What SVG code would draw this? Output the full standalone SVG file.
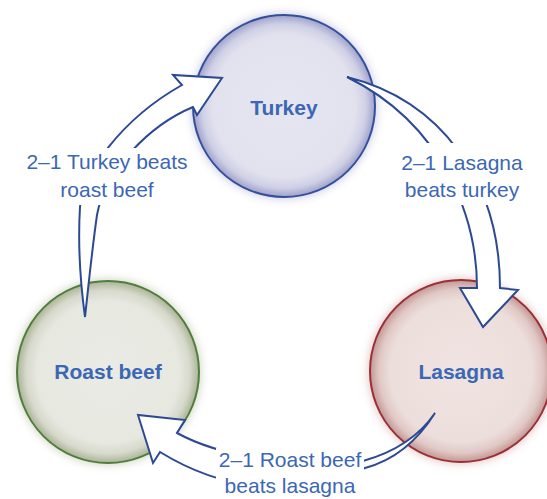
<svg xmlns="http://www.w3.org/2000/svg" width="547" height="499" viewBox="0 0 547 499">
<defs>
<radialGradient id="gT" cx="50%" cy="50%" r="50%">
<stop offset="0%" stop-color="#e6e6f1"/><stop offset="78%" stop-color="#e2e2ef"/><stop offset="90%" stop-color="#cfd0e5"/><stop offset="100%" stop-color="#9fa2cc"/>
</radialGradient>
<radialGradient id="gR" cx="50%" cy="50%" r="50%">
<stop offset="0%" stop-color="#eaebe5"/><stop offset="78%" stop-color="#e7e8e0"/><stop offset="90%" stop-color="#d6d9cb"/><stop offset="100%" stop-color="#abb396"/>
</radialGradient>
<radialGradient id="gL" cx="50%" cy="50%" r="50%">
<stop offset="0%" stop-color="#f0e4e2"/><stop offset="78%" stop-color="#ecdedb"/><stop offset="90%" stop-color="#e0c8c5"/><stop offset="100%" stop-color="#c49794"/>
</radialGradient>
<filter id="blur" x="-20%" y="-20%" width="140%" height="140%"><feGaussianBlur stdDeviation="4"/></filter>
</defs>
<style>
.lbl{font-family:"Liberation Sans",Arial,sans-serif;font-size:21px;font-weight:bold;fill:#3b67b4;text-anchor:middle}
.elbl{font-family:"Liberation Sans",Arial,sans-serif;font-size:21px;fill:#3b67b4;text-anchor:middle}
.arrow{fill:#ffffff;stroke:#2c4a94;stroke-width:2;stroke-linejoin:miter}
.mask{fill:#ffffff}
</style>
<g id="turkey">
<circle cx="284" cy="106" r="93" fill="#8f93c6" opacity="0.45" filter="url(#blur)"/>
<circle cx="284" cy="106" r="91" fill="url(#gT)" stroke="#34509c" stroke-width="2"/>
<text class="lbl" x="284" y="115">Turkey</text>
</g>
<g id="roastbeef">
<circle cx="108" cy="372" r="93" fill="#9aa581" opacity="0.45" filter="url(#blur)"/>
<circle cx="108" cy="372" r="91" fill="url(#gR)" stroke="#4f7f3d" stroke-width="2"/>
<text class="lbl" x="108" y="379">Roast beef</text>
</g>
<g id="lasagna">
<circle cx="461" cy="371" r="93" fill="#c08581" opacity="0.45" filter="url(#blur)"/>
<circle cx="461" cy="371" r="91" fill="url(#gL)" stroke="#9b2f35" stroke-width="2"/>
<text class="lbl" x="461" y="379">Lasagna</text>
</g>
<g id="connectors">
<path class="arrow" d="M347,77 C440,100 500,180 500,288 L518,290 L483,327 L460,288 L477,288 C477,220 445,125 347,77 Z"/>
<rect class="mask" x="396" y="143" width="132" height="62"/>
<path class="arrow" d="M85,317 C80,280 78,240 80,207 C82,175 120,120 182,85 L173,75 L222,78 L197,115 L193,107 C150,125 105,170 97,215 C92,250 88,290 85,317 Z"/>
<rect class="mask" x="22" y="148" width="168" height="57"/>
<path class="arrow" d="M177,433 C230,462 320,468 363,461 C395,452 420,435 435,413 C418,440 395,460 365,468 C300,495 230,495 160,452 L153,463 L138,415 L185,420 Z"/>
<rect class="mask" x="216" y="448" width="148" height="51"/>
</g>
<g id="edge-labels">
<text class="elbl" x="462" y="170">2–1 Lasagna</text>
<text class="elbl" x="462" y="197">beats turkey</text>
<text class="elbl" x="107" y="169">2–1 Turkey beats</text>
<text class="elbl" x="107" y="197">roast beef</text>
<text class="elbl" x="290" y="467">2–1 Roast beef</text>
<text class="elbl" x="290" y="493">beats lasagna</text>
</g>
</svg>
